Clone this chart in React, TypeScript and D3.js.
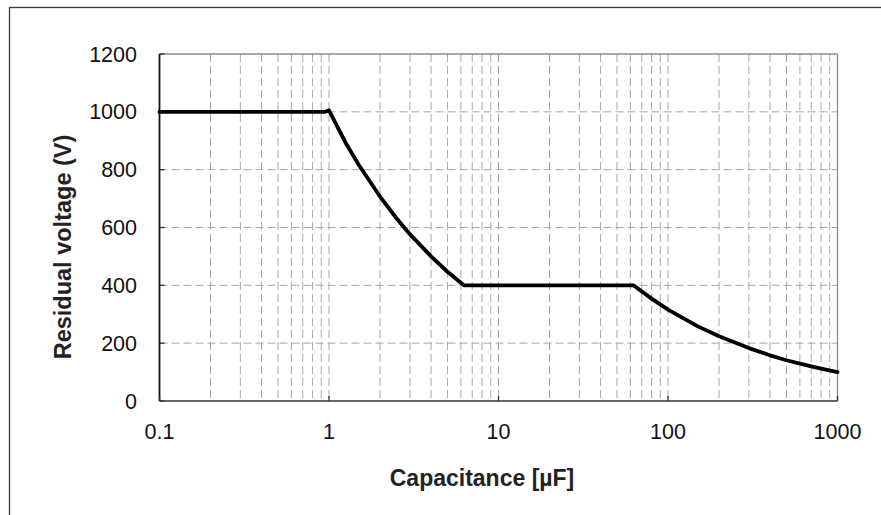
import React from "react";
import * as d3 from "d3";

const capacitance = [0.1, 0.5, 0.95, 1.0, 1.25, 1.5, 2, 2.5, 3, 4, 5, 6.25, 20, 62.5, 80, 100, 150, 200, 300, 400, 500, 600, 700, 800, 1000];
const voltage = [1000, 1000, 1000, 1005, 894, 816, 707, 632, 577, 500, 447, 400, 400, 400, 354, 316, 258, 224, 183, 158, 141, 129, 120, 112, 100];
const xTickValues = [0.1, 1, 10, 100, 1000];
const xTickLabels = ["0.1", "1", "10", "100", "1000"];
const yTickValues = [0, 200, 400, 600, 800, 1000, 1200];
const xTitle = "Capacitance [µF]";
const yTitle = "Residual voltage (V)";

const W = 881;
const H = 515;
const M = { left: 159.5, right: 837.5, top: 54, bottom: 401 };
const FONT = "'Liberation Sans', Arial, sans-serif";

export default function App() {
  const x = d3.scaleLog().domain([0.1, 1000]).range([M.left, M.right]);
  const y = d3.scaleLinear().domain([0, 1200]).range([M.bottom, M.top]);

  // minor gridlines (all 1..9 multiples of each decade except first)
  const vGrid: number[] = [];
  for (let dec = 0.1; dec < 1000; dec *= 10) {
    for (let k = 2; k <= 10; k++) vGrid.push(+(dec * k).toPrecision(6));
  }
  const vGridInner = vGrid.filter((v) => v < 1000);

  const pts = capacitance.map((c, i) => [c, voltage[i]] as [number, number]);
  const line = d3
    .line<[number, number]>()
    .x((d) => x(d[0]))
    .y((d) => y(d[1]))
    .curve(d3.curveLinear);

  return (
    <svg width={W} height={H} style={{ display: "block", position: "absolute", left: 0, top: 0 }}>
      <rect x={0} y={0} width={W} height={H} fill="#fff" />
      {/* outer chart border */}
      <rect x={9.5} y={7.5} width={W + 20} height={H + 20} fill="none" stroke="#3a3a3a" strokeWidth={1.3} />

      {/* gridlines */}
      {yTickValues
        .filter((v) => v > 0 && v < 1200)
        .map((v) => (
          <line key={"h" + v} x1={M.left} x2={M.right} y1={y(v)} y2={y(v)} stroke="#a8a8a8" strokeWidth={1} strokeDasharray="8,4" />
        ))}
      {vGridInner.map((v) => (
        <line key={"v" + v} x1={x(v)} x2={x(v)} y1={M.top} y2={M.bottom} stroke="#a8a8a8" strokeWidth={1} strokeDasharray="8,4" />
      ))}

      {/* plot frame */}
      <line x1={M.left} x2={M.right} y1={M.top} y2={M.top} stroke="#8a8a8a" strokeWidth={1.3} />
      <line x1={M.right} x2={M.right} y1={M.top} y2={M.bottom} stroke="#8a8a8a" strokeWidth={1.3} />
      <line x1={M.left} x2={M.right} y1={M.bottom} y2={M.bottom} stroke="#333" strokeWidth={1.5} />
      <line x1={M.left} x2={M.left} y1={M.top} y2={M.bottom} stroke="#111" strokeWidth={1.8} />

      {/* tick marks */}
      {xTickValues.map((v) => (
        <line key={"xt" + v} x1={x(v)} x2={x(v)} y1={M.bottom} y2={M.bottom - 5} stroke="#333" strokeWidth={1.3} />
      ))}
      {yTickValues.map((v) => (
        <line key={"yt" + v} x1={M.left} x2={M.left + 5} y1={y(v)} y2={y(v)} stroke="#333" strokeWidth={1.3} />
      ))}

      {/* data line */}
      <path d={line(pts) || ""} fill="none" stroke="#000" strokeWidth={3.8} strokeLinejoin="round" strokeLinecap="round" />

      {/* tick labels */}
      {xTickValues.map((v, i) => (
        <text key={"xl" + v} x={x(v)} y={439} textAnchor="middle" fontFamily={FONT} fontSize={21.5} fill="#111">
          {xTickLabels[i]}
        </text>
      ))}
      {yTickValues.map((v) => (
        <text key={"yl" + v} x={137} y={y(v) + 7.5} textAnchor="end" fontFamily={FONT} fontSize={21.5} fill="#111">
          {String(v)}
        </text>
      ))}

      {/* axis titles */}
      <text x={482} y={486} textAnchor="middle" fontFamily={FONT} fontSize={23} fontWeight="bold" fill="#222">
        {xTitle}
      </text>
      <text
        transform={`translate(70.5, 247) rotate(-90)`}
        textAnchor="middle"
        fontFamily={FONT}
        fontSize={23.5}
        fontWeight="bold"
        fill="#222"
      >
        {yTitle}
      </text>
    </svg>
  );
}
